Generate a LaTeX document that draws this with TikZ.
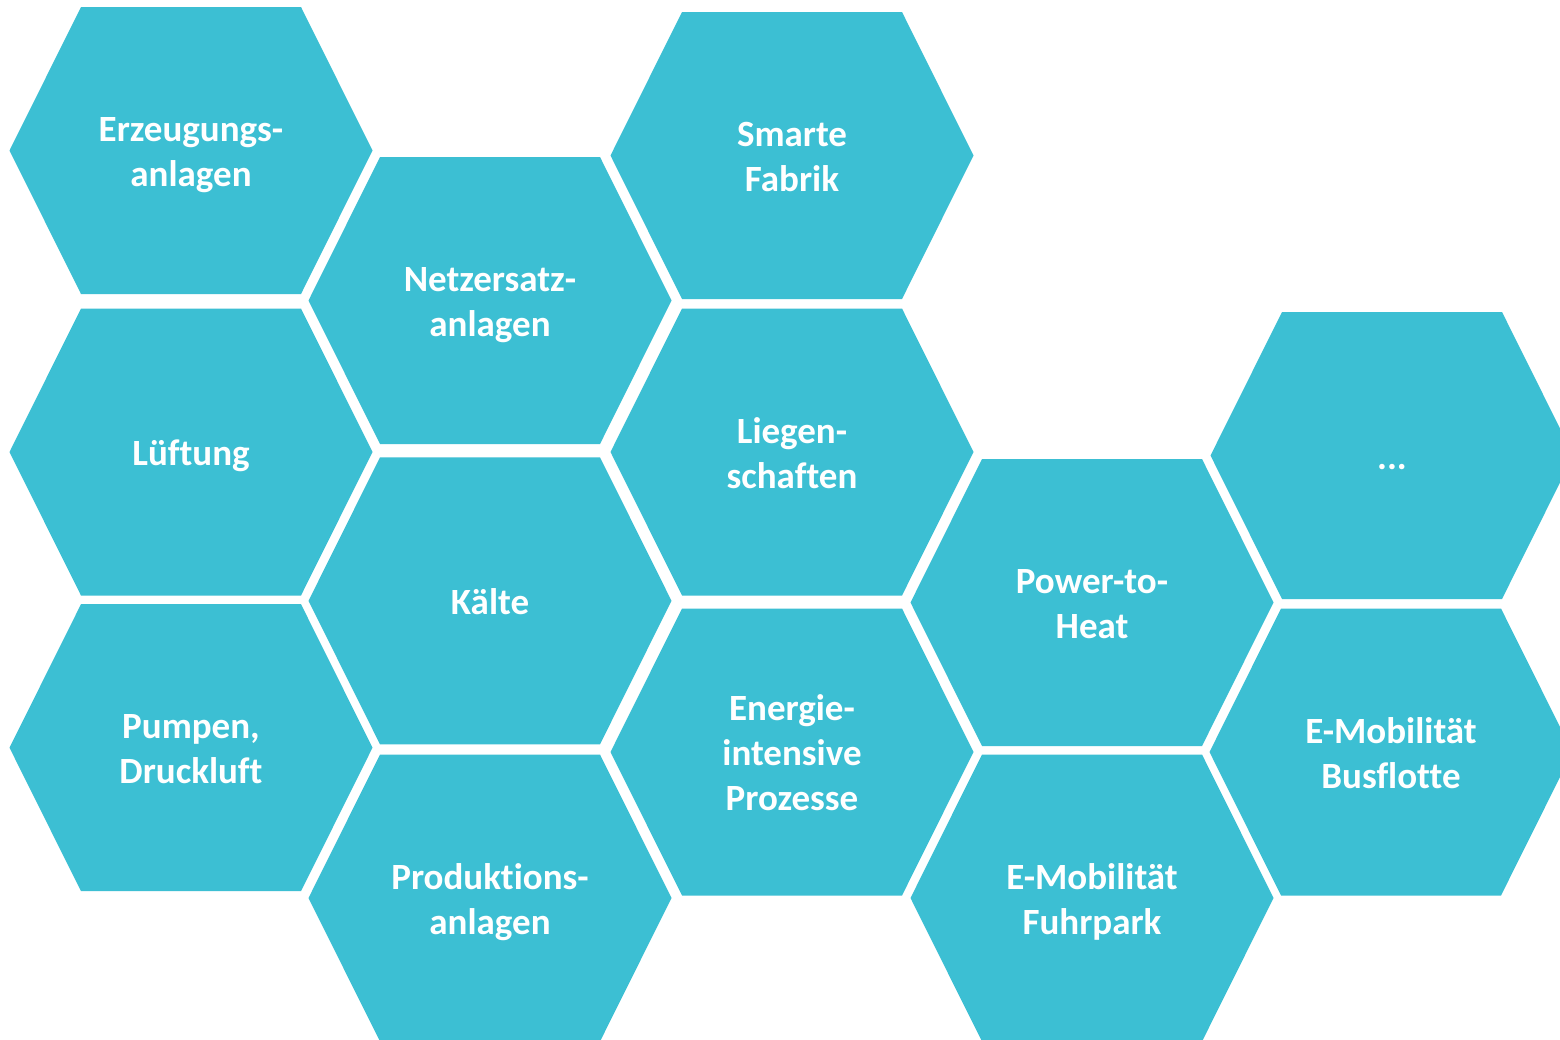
\documentclass[tikz,border=0pt]{standalone}
\usepackage{fontspec}
\setmainfont{Carlito}[Ligatures=NoCommon]
\definecolor{hexcyan}{RGB}{60,191,211}
\newcommand\hl{\vrule height 39.2pt depth 11.8pt width 0pt\relax}
\newcommand\hexcell[4]{%
  \fill[hexfill,shift={(#1,#2)}] (-181.5,0) -- (-110,-143.5) -- (110,-143.5)
    -- (181.5,0) -- (110,143.5) -- (-110,143.5) -- cycle;
  \node[hexlabel] (#3) at (#1,#2) {#4};}
\tikzset{
  hexfill/.style={fill=hexcyan},
  hexlabel/.style={text=white, align=center, inner sep=0pt, anchor=center,
    font={\fontsize{37}{45}\selectfont\bfseries\lineskiplimit-1000pt\relax}}
}
\begin{document}
\begin{tikzpicture}[x=1pt,y=-1pt]
\clip (0,0) rectangle (1560,1039);
\fill[white] (0,0) rectangle (1560,1039);
\hexcell{191}{150.5}{erz}{\hl Erzeugungs-\\\hl anlagen}
\hexcell{191}{452}{luf}{\hl L\"uftung}
\hexcell{191}{747.7}{pump}{\hl Pumpen,\\\hl Druckluft}
\hexcell{490}{300.5}{netz}{\hl Netzersatz-\\\hl anlagen}
\hexcell{490}{600.8}{kaelte}{\hl K\"alte}
\hexcell{490}{898}{prod}{\hl Produktions-\\\hl anlagen}
\hexcell{792}{155.5}{smart}{\hl Smarte\\\hl Fabrik}
\hexcell{792}{452}{lieg}{\hl Liegen-\\\hl schaften}
\hexcell{792}{752}{energ}{\hl Energie-\\\hl intensive\\\hl Prozesse}
\hexcell{1092}{602.5}{ptoh}{\hl Power-to-\\\hl Heat}
\hexcell{1092}{898}{fuhr}{\hl E-Mobilit\"at\\\hl Fuhrpark}
\hexcell{1392}{455.5}{more}{\hl ...}
\hexcell{1391}{752}{bus}{\hl E-Mobilit\"at\\\hl Busflotte}
\end{tikzpicture}
\end{document}
